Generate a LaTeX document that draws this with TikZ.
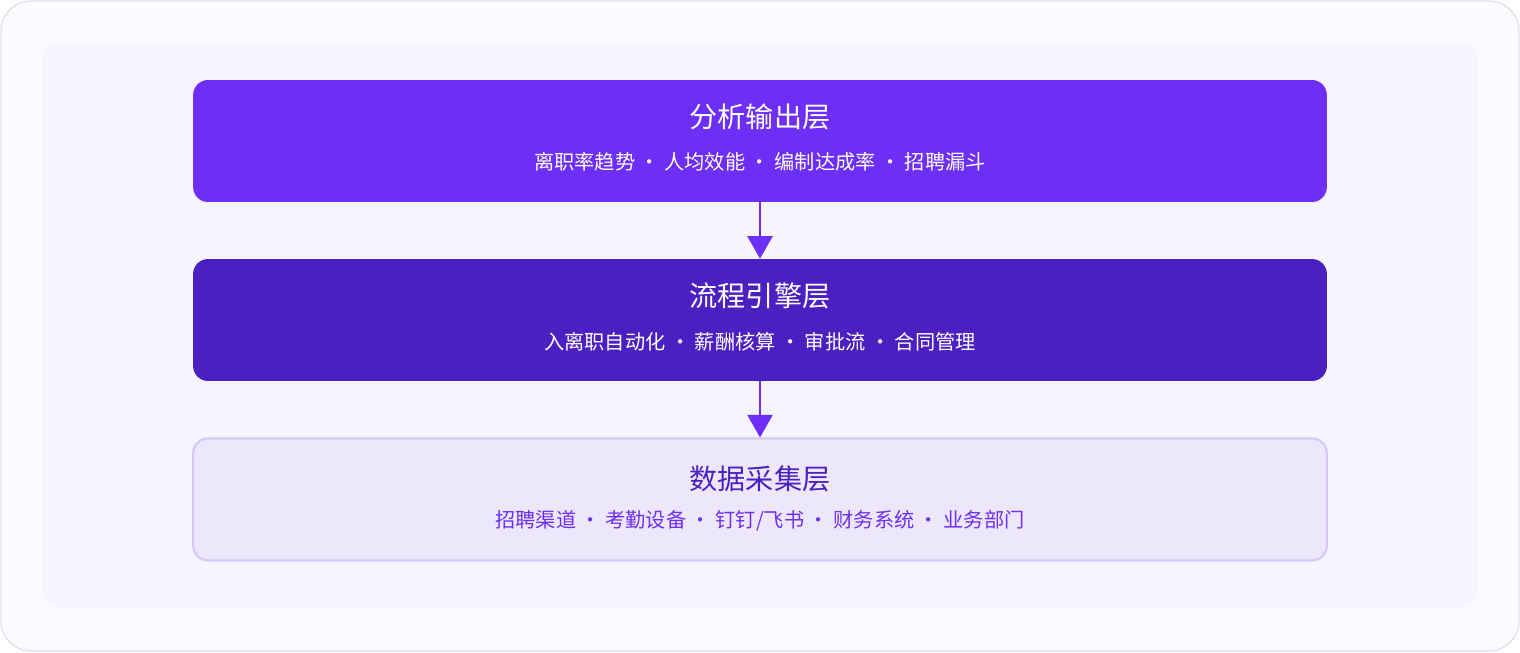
\documentclass[tikz,border=0pt]{standalone}
\usepackage{fontspec}
\setmainfont{Noto Sans CJK SC}
\usetikzlibrary{positioning,arrows.meta}
\definecolor{vio}{HTML}{6D2EF5}
\definecolor{deep}{HTML}{4C1FC1}
\definecolor{pale}{HTML}{EDE7FC}
\definecolor{paleline}{HTML}{D5C8F7}
\definecolor{outerbg}{HTML}{FBFAFE}
\definecolor{outerline}{HTML}{E4E0F2}
\definecolor{innerbg}{HTML}{F6F4FC}
\tikzset{
  layer/.style={rounded corners=0.3cm, minimum width=22.68cm, minimum height=2.44cm, align=center, inner sep=0pt},
  ttl/.style={font=\fontsize{16}{20}\selectfont},
  sub/.style={font=\fontsize{11.5}{14}\selectfont},
  flow/.style={vio, line width=1.2pt, -{Triangle[width=0.5cm,length=0.45cm]}}
}
\begin{document}
\begin{tikzpicture}[x=0.02cm,y=-0.02cm]
  \useasboundingbox (0,0) rectangle (1520,652);
  \draw[outerline, fill=outerbg, rounded corners=0.6cm, line width=0.8pt] (1,1) rectangle (1519,651);
  \fill[innerbg, rounded corners=0.4cm] (42,42) rectangle (1478,608);

  % layers, top to bottom
  \node[layer, fill=vio] (out) at (760,141) {};
  \node[ttl, white] (outT) at (760,117) {分析输出层};
  \node[sub, white] (outS) at (760,162) {离职率趋势 · 人均效能 · 编制达成率 · 招聘漏斗};

  \node[layer, fill=deep] (eng) at (760,320) {};
  \node[ttl, white] (engT) at (760,296) {流程引擎层};
  \node[sub, white] (engS) at (760,342) {入离职自动化 · 薪酬核算 · 审批流 · 合同管理};

  \node[layer, fill=pale, draw=paleline, line width=1.2pt] (dat) at (760,499.5) {};
  \node[ttl, deep] (datT) at (760,479) {数据采集层};
  \node[sub, vio] (datS) at (760,521) {招聘渠道 · 考勤设备 · 钉钉/飞书 · 财务系统 · 业务部门};

  \draw[flow] (out.south) -- (eng.north);
  \draw[flow] (eng.south) -- (dat.north);
\end{tikzpicture}
\end{document}
